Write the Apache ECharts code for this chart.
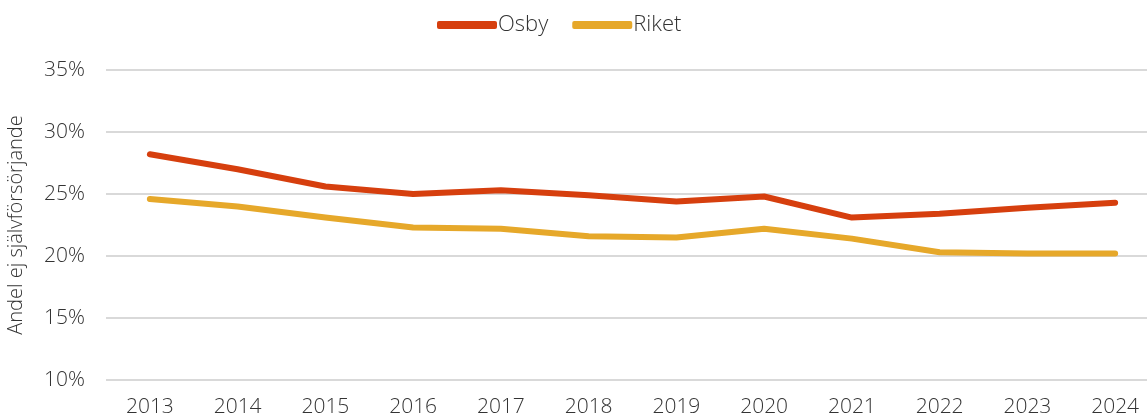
<!DOCTYPE html>
<html>
<head>
<meta charset="utf-8">
<script src="https://cdn.jsdelivr.net/npm/echarts@6/dist/echarts.min.js"></script>
<style>
  html, body { margin: 0; padding: 0; background: #fff; }
  #chart { width: 1147px; height: 420px; }
</style>
</head>
<body>
<div id="chart"></div>
<script>
// Years on the category axis
const years = ['2013', '2014', '2015', '2016', '2017', '2018', '2019', '2020', '2021', '2022', '2023', '2024'];
// Share not self-supporting, percent
const osby = [28.2, 27.0, 25.6, 25.0, 25.3, 24.9, 24.4, 24.8, 23.1, 23.4, 23.9, 24.3];
const riket = [24.6, 24.0, 23.1, 22.3, 22.2, 21.6, 21.5, 22.2, 21.4, 20.3, 20.2, 20.2];
const seriesNames = ['Osby', 'Riket'];
const yAxisTitle = 'Andel ej självförsörjande';

const FONT = "'Open Sans', sans-serif";
const TEXT = '#333333';
const colors = ['#D63F0E', '#E6A82A'];

const chart = echarts.init(document.getElementById('chart'), null, { renderer: 'canvas' });

chart.setOption({
  animation: false,
  color: colors,
  legend: {
    top: 9,
    left: 432,
    icon: 'roundRect',
    itemWidth: 60,
    itemHeight: 8,
    itemGap: 24,
    textStyle: { fontFamily: FONT, fontSize: 22, fontWeight: 300, color: TEXT, padding: [0, 0, 0, -4] },
    data: seriesNames
  },
  grid: { left: 106, top: 70, width: 1053, height: 310, containLabel: false, outerBoundsMode: 'none' },
  xAxis: {
    type: 'category',
    data: years,
    boundaryGap: true,
    axisLine: { show: false },
    axisTick: { show: false },
    axisLabel: { fontFamily: FONT, fontSize: 21, fontWeight: 300, color: TEXT, margin: 17 }
  },
  yAxis: {
    type: 'value',
    min: 10,
    max: 35,
    interval: 5,
    name: yAxisTitle,
    nameLocation: 'middle',
    nameGap: 80,
    nameTextStyle: { fontFamily: FONT, fontSize: 20, fontWeight: 300, color: TEXT },
    axisLine: { show: false },
    axisTick: { show: false },
    axisLabel: { fontFamily: FONT, fontSize: 21, fontWeight: 300, color: TEXT, margin: 21, formatter: '{value}%' },
    splitLine: { lineStyle: { color: '#d9d9d9', width: 2 } }
  },
  series: [
    {
      name: seriesNames[0], type: 'line', data: osby,
      symbol: 'none', lineStyle: { width: 6, cap: 'round', join: 'round' }
    },
    {
      name: seriesNames[1], type: 'line', data: riket,
      symbol: 'none', lineStyle: { width: 6, cap: 'round', join: 'round' }
    }
  ]
});
</script>
</body>
</html>
